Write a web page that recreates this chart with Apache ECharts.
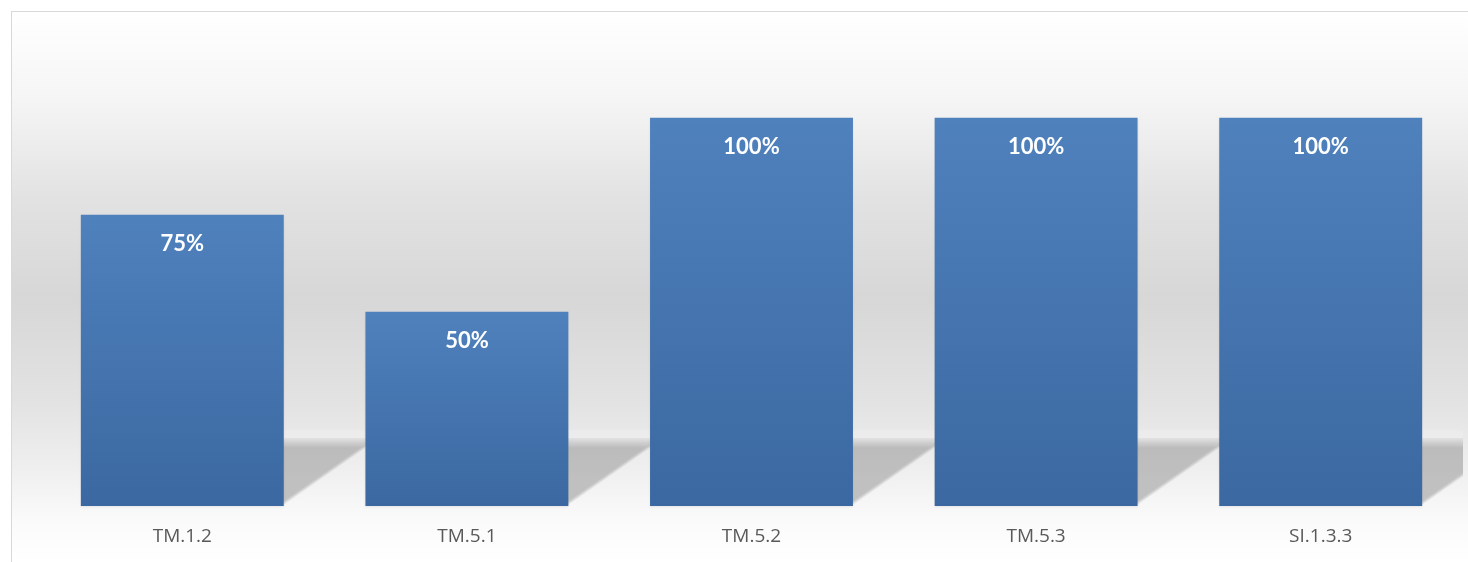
<!DOCTYPE html>
<html>
<head>
<meta charset="utf-8">
<script src="https://cdn.jsdelivr.net/npm/echarts@6/dist/echarts.min.js"></script>
<style>
  html, body { margin: 0; padding: 0; background: #ffffff; width: 1468px; height: 562px; overflow: hidden; }
  #frame { position: absolute; left: 11px; top: 11px; width: 1457px; height: 551px; border-left: 1px solid #d9d9d9; border-top: 1px solid #d9d9d9; }
  #chart { width: 1457px; height: 551px; }
</style>
</head>
<body>
<div id="frame"><div id="chart"></div></div>
<script>
const categories = ['TM.1.2', 'TM.5.1', 'TM.5.2', 'TM.5.3', 'SI.1.3.3'];
const values = [0.75, 0.50, 1.00, 1.00, 1.00];

const chart = echarts.init(document.getElementById('chart'), null, { renderer: 'canvas' });
const BAR_RATIO = 0.713;

chart.setOption({
  animation: false,
  backgroundColor: {
    type: 'linear', x: 0, y: 0, x2: 0, y2: 1,
    colorStops: [
      { offset: 0.00, color: '#ffffff' },
      { offset: 0.16, color: '#f5f5f5' },
      { offset: 0.34, color: '#e2e2e2' },
      { offset: 0.52, color: '#d7d7d7' },
      { offset: 0.70, color: '#e2e2e2' },
      { offset: 0.83, color: '#efefef' },
      { offset: 0.92, color: '#fafafa' },
      { offset: 1.00, color: '#ffffff' }
    ]
  },
  grid: { left: 28, right: 6, top: 28, bottom: 57 },
  xAxis: {
    type: 'category',
    data: categories,
    axisLine: { show: false },
    axisTick: { show: false },
    axisLabel: { color: '#595959', fontSize: 19, fontFamily: 'Open Sans, Lato, sans-serif', margin: 21 }
  },
  yAxis: {
    type: 'value', min: 0, max: 1.2, interval: 0.2,
    show: false,
    splitLine: { show: false }
  },
  series: [
    {
      type: 'custom',
      z: 1,
      clip: true,
      data: values.map((v, i) => [i, v]),
      renderItem: function (params, api) {
        const base = api.coord([api.value(0), 0]);
        const bw = api.size([1, 0])[0] * BAR_RATIO;
        const xr = base[0] + bw / 2;
        const yb = base[1];
        const H = 68, D = 96;
        const children = [{
          type: 'rect',
          shape: { x: xr - 10, y: yb - H - 8, width: D + 10, height: 8 },
          style: { fill: 'rgba(255,255,255,0.15)' }
        }];
        const N = 7;
        for (let k = 0; k < N; k++) {
          const top = yb - H + k * 1.6;
          const shift = k * 3.2;
          children.push({
            type: 'polygon',
            shape: { points: [[xr - bw / 2, yb - 1], [xr - shift * 0.3, yb - 1], [xr + D - shift, top], [xr - bw / 2, top]] },
            style: { fill: 'rgba(140,140,140,0.085)' }
          });
        }
        return { type: 'group', children: children };
      }
    },
    {
      type: 'bar',
      z: 2,
      data: values,
      barWidth: (BAR_RATIO * 100) + '%',
      itemStyle: {
        color: {
          type: 'linear', x: 0, y: 0, x2: 0, y2: 1,
          colorStops: [
            { offset: 0, color: '#4f81bd' },
            { offset: 1, color: '#3b68a0' }
          ]
        },
        shadowColor: 'rgba(0,0,0,0.08)',
        shadowBlur: 2,
        shadowOffsetY: 1
      },
      label: {
        show: true,
        position: 'insideTop',
        distance: 18,
        color: '#ffffff',
        fontSize: 22,
        fontWeight: 'bold',
        fontFamily: 'Lato, Open Sans, sans-serif',
        formatter: p => Math.round(p.value * 100) + '%'
      }
    }
  ]
});
</script>
</body>
</html>
